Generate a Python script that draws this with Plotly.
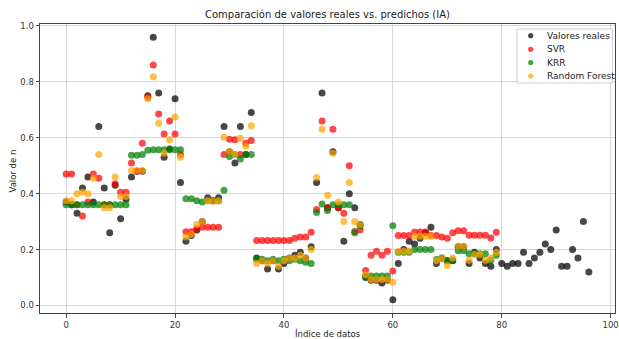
import plotly.graph_objects as go

real = [0.37, 0.36, 0.33, 0.42, 0.46, 0.37, 0.64, 0.42, 0.26, 0.43,
        0.31, 0.38, 0.46, 0.48, 0.48, 0.75, 0.96, 0.76, 0.53, 0.56,
        0.74, 0.44, 0.23, 0.25, 0.27, 0.30, 0.385, 0.375, 0.385, 0.64,
        0.55, 0.51, 0.64, 0.54, 0.69, 0.17, 0.16, 0.13, 0.16, 0.13,
        0.15, 0.17, 0.18, 0.19, 0.17, 0.21, 0.44, 0.76, 0.35, 0.55,
        0.35, 0.23, 0.40, 0.35, 0.29, 0.10, 0.09, 0.09, 0.08, 0.09,
        0.02, 0.15, 0.20, 0.23, 0.22, 0.24, 0.26, 0.28, 0.15, 0.17,
        0.16, 0.16, 0.21, 0.21, 0.15, 0.19, 0.17, 0.15, 0.14, 0.20,
        0.15, 0.14, 0.15, 0.15, 0.19, 0.15, 0.17, 0.19, 0.22, 0.20,
        0.27, 0.14, 0.14, 0.20, 0.17, 0.30, 0.12]

svr = [0.47, 0.47, 0.36, 0.32, 0.37, 0.47, 0.455, 0.36, 0.36, 0.435,
       0.405, 0.405, 0.51, 0.48, 0.58, 0.745, 0.86, 0.685, 0.613, 0.66,
       0.613, 0.54, 0.264, 0.264, 0.274, 0.28, 0.28, 0.28, 0.28, 0.54,
       0.595, 0.593, 0.54, 0.58, 0.59, 0.232, 0.232, 0.232, 0.232, 0.232,
       0.232, 0.232, 0.24, 0.245, 0.245, 0.262, 0.343, 0.66, 0.35, 0.63,
       0.35, 0.33, 0.50, 0.265, 0.27, 0.125, 0.18, 0.194, 0.18, 0.194,
       0.123, 0.25, 0.25, 0.25, 0.263, 0.263, 0.263, 0.25, 0.25, 0.245,
       0.24, 0.26, 0.267, 0.267, 0.251, 0.251, 0.251, 0.251, 0.241, 0.262]

krr = [0.36, 0.36, 0.36, 0.36, 0.36, 0.36, 0.36, 0.36, 0.36, 0.36,
       0.36, 0.36, 0.537, 0.537, 0.54, 0.555, 0.557, 0.557, 0.557, 0.557,
       0.557, 0.557, 0.382, 0.382, 0.375, 0.37, 0.375, 0.375, 0.375, 0.412,
       0.533, 0.54, 0.524, 0.54, 0.54, 0.165, 0.165, 0.16, 0.165, 0.16,
       0.165, 0.16, 0.165, 0.16, 0.155, 0.15, 0.333, 0.363, 0.34, 0.36,
       0.36, 0.36, 0.36, 0.26, 0.285, 0.105, 0.105, 0.105, 0.105, 0.105,
       0.285, 0.19, 0.19, 0.19, 0.20, 0.20, 0.20, 0.20, 0.164, 0.17,
       0.16, 0.162, 0.196, 0.196, 0.185, 0.185, 0.185, 0.185, 0.162, 0.18]

rf = [0.375, 0.375, 0.40, 0.405, 0.40, 0.455, 0.54, 0.35, 0.35, 0.46,
      0.39, 0.39, 0.483, 0.483, 0.483, 0.74, 0.818, 0.652, 0.545, 0.593,
      0.674, 0.53, 0.245, 0.254, 0.29, 0.30, 0.375, 0.373, 0.375, 0.602,
      0.551, 0.54, 0.598, 0.57, 0.643, 0.15, 0.16, 0.15, 0.16, 0.14,
      0.16, 0.17, 0.17, 0.18, 0.17, 0.20, 0.458, 0.63, 0.394, 0.545,
      0.37, 0.30, 0.44, 0.30, 0.29, 0.11, 0.093, 0.093, 0.093, 0.093,
      0.083, 0.194, 0.194, 0.194, 0.248, 0.248, 0.248, 0.248, 0.16, 0.17,
      0.143, 0.17, 0.212, 0.212, 0.162, 0.182, 0.182, 0.162, 0.17, 0.19]

series_names = ["Valores reales", "SVR", "KRR", "Random Forest"]
series_values = [real, svr, krr, rf]
series_colors = ["black", "red", "green", "orange"]

FONT = "DejaVu Sans"
OPA = 0.72

# plot-area geometry (pixels) used to place the legend box
L, R, T, B = 40, 615, 24, 313
W, H = 619, 339


def px(X):
    return (X - L) / (R - L)


def py(Y):
    return (B - Y) / (B - T)


fig = go.Figure()
for name, vals, col in zip(series_names, series_values, series_colors):
    fig.add_trace(go.Scatter(
        x=list(range(len(vals))), y=vals, mode="markers", name=name,
        marker=dict(size=7, color=col, opacity=OPA, line=dict(width=0)),
        showlegend=False,
    ))

axis_common = dict(
    showline=True, linecolor="#444", linewidth=1, mirror=True,
    ticks="outside", ticklen=3.5, tickcolor="#444", tickwidth=1,
    showgrid=True, gridcolor="#d6d6d6", gridwidth=1, zeroline=False,
    tickfont=dict(family=FONT, size=8.5, color="#333"),
)

# legend drawn as a box with markers and labels
shapes = [dict(type="rect", xref="paper", yref="paper",
               x0=px(517), x1=px(612.5), y0=py(83), y1=py(29),
               line=dict(color="#d0d0d0", width=1),
               fillcolor="rgba(255,255,255,0.85)", layer="above")]
annotations = []
entry_y = [35.7, 49.3, 62.5, 76]
for name, col, ey in zip(series_names, series_colors, entry_y):
    shapes.append(dict(type="circle", xref="paper", yref="paper",
                       xsizemode="pixel", ysizemode="pixel",
                       xanchor=px(530.7), yanchor=py(ey),
                       x0=-2.6, x1=2.6, y0=-2.6, y1=2.6,
                       fillcolor=col, opacity=OPA, line=dict(width=0),
                       layer="above"))
    annotations.append(dict(text=name, xref="paper", yref="paper",
                            x=px(545), y=py(ey), xanchor="left",
                            yanchor="middle", showarrow=False,
                            font=dict(family=FONT, size=9, color="#222")))

annotations += [
    dict(text="Índice de datos", xref="paper", yref="paper",
         x=0.5, y=-20 / (B - T), xanchor="center", yanchor="middle",
         showarrow=False, font=dict(family=FONT, size=8.5, color="#222")),
    dict(text="Valor de n", xref="paper", yref="paper",
         x=px(12.5), y=py(171), xanchor="center", yanchor="middle",
         textangle=-90, showarrow=False,
         font=dict(family=FONT, size=8.5, color="#222")),
]

fig.update_layout(
    width=W, height=H,
    margin=dict(l=L, r=W - R, t=T, b=H - B, autoexpand=False),
    paper_bgcolor="white", plot_bgcolor="white",
    showlegend=False,
    title=dict(text="Comparación de valores reales vs. predichos (IA)",
               x=0.5, xref="paper", y=1 - 14 / H, yref="container",
               yanchor="middle", xanchor="center",
               font=dict(family=FONT, size=10, color="#222")),
    xaxis=dict(range=[-4.8, 100.8], tickvals=[0, 20, 40, 60, 80, 100],
               **axis_common),
    yaxis=dict(range=[-0.027, 1.007], tickvals=[0, 0.2, 0.4, 0.6, 0.8, 1.0],
               tickformat=".1f", **axis_common),
    shapes=shapes,
    annotations=annotations,
)

fig.write_html("out.html")
